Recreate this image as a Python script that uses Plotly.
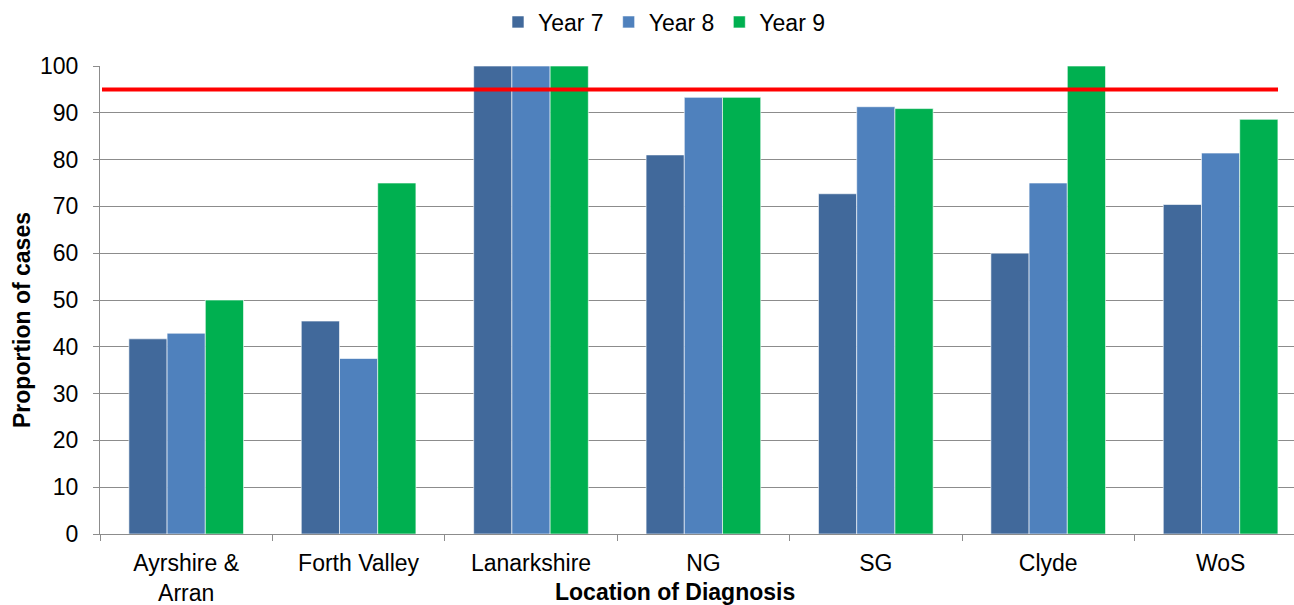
import plotly.graph_objects as go

categories = ["Ayrshire &<br>Arran", "Forth Valley", "Lanarkshire", "NG", "SG", "Clyde", "WoS"]
year7 = [41.7, 45.5, 100, 81.0, 72.7, 60.0, 70.4]
year8 = [42.9, 37.5, 100, 93.3, 91.3, 75.0, 81.4]
year9 = [50.0, 75.0, 100, 93.3, 90.9, 100, 88.6]
series_names = ["Year 7", "Year 8", "Year 9"]
target = 95
y_ticks = [0, 10, 20, 30, 40, 50, 60, 70, 80, 90, 100]

colors = ["#41699B", "#4F81BD", "#00B050"]
FONT = "Liberation Sans, Arial, sans-serif"

fig = go.Figure()
for name, vals, col in zip(series_names, [year7, year8, year9], colors):
    fig.add_trace(go.Bar(
        x=categories, y=vals, name=name,
        marker=dict(color=col, line=dict(color="rgba(255,255,255,0.6)", width=1)),
    ))

W, H = 1294, 605
L, R, T, B = 100, 0, 66, 71
pw = W - L - R
ph = H - T - B
cat_w = 172.4

fig.add_shape(type="line", xref="paper", yref="y",
              x0=(102 - L) / pw, x1=(1278 - L) / pw, y0=target, y1=target,
              line=dict(color="#FF0000", width=4), layer="above")

fig.add_annotation(text="<b>Location of Diagnosis</b>", xref="paper", yref="paper",
                   x=(675 - L) / pw, y=-(592 - (H - B)) / ph, xanchor="center", yanchor="middle",
                   showarrow=False, font=dict(size=23, color="#000000", family=FONT))
fig.add_annotation(text="<b>Proportion of cases</b>", xref="paper", yref="paper",
                   x=(22 - L) / pw, y=((H - B) - 320) / ph, xanchor="center", yanchor="middle",
                   textangle=-90, showarrow=False, font=dict(size=23, color="#000000", family=FONT))

fig.update_layout(
    width=W, height=H,
    margin=dict(l=L, r=R, t=T, b=B, pad=0, autoexpand=False),
    paper_bgcolor="white", plot_bgcolor="white",
    font=dict(family=FONT, size=23, color="#000000"),
    barmode="group", bargap=0.335, bargroupgap=0,
    showlegend=True,
    legend=dict(orientation="h", x=(664 - L) / pw, xanchor="center",
                y=1 + (T - 22) / ph, yanchor="middle",
                font=dict(size=23, family=FONT), itemwidth=30, tracegroupgap=0,
                bgcolor="rgba(0,0,0,0)"),
    xaxis=dict(range=[-0.5, -0.5 + pw / cat_w], showgrid=False, automargin=False,
               showline=True, linecolor="#8C8C8C", linewidth=1,
               ticks="outside", tickson="boundaries", ticklen=6, tickcolor="#8C8C8C",
               ticklabelstandoff=8,
               tickfont=dict(size=23, family=FONT), zeroline=False),
    yaxis=dict(range=[0, 100], tickvals=y_ticks, showgrid=True, gridcolor="#8C8C8C", gridwidth=1,
               showline=True, linecolor="#8C8C8C", linewidth=1, automargin=False,
               ticks="outside", ticklen=6, tickcolor="#8C8C8C", ticklabelstandoff=10,
               tickfont=dict(size=23, family=FONT), zeroline=False),
)

fig.write_html("out.html")
